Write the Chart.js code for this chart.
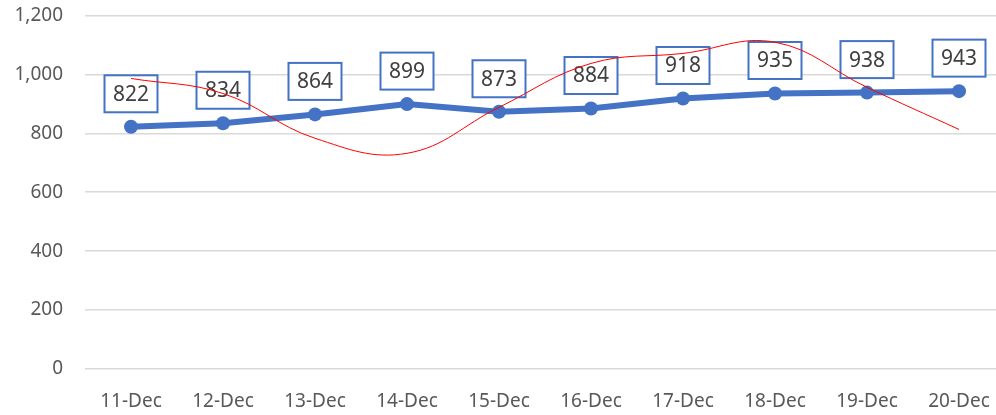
<!DOCTYPE html>
<html>
<head>
<meta charset="utf-8">
<script src="https://cdn.jsdelivr.net/npm/chart.js@4"></script>
<style>
  html, body { margin: 0; padding: 0; background: #fff; overflow: hidden; }
  canvas { display: block; margin-top: -18px; }
</style>
</head>
<body>
<canvas id="chart" width="1012" height="433"></canvas>
<script>
const days = ['11-Dec', '12-Dec', '13-Dec', '14-Dec', '15-Dec', '16-Dec', '17-Dec', '18-Dec', '19-Dec', '20-Dec'];
const totals = [822, 834, 864, 899, 873, 884, 918, 935, 938, 943];
const redCurve = [986, 935, 783, 732, 888, 1037, 1071, 1109, 956, 813];
const yTicks = [0, 200, 400, 600, 800, 1000, 1200];

const blue = '#4472C4';

// boxed value labels drawn right after the blue series, so the red curve sits on top
const boxLabels = {
    id: 'boxLabels',
    afterDatasetDraw(chart, args) {
        if (args.index !== 0) return;
        const ctx = chart.ctx;
        ctx.save();
        ctx.font = '21px "Noto Sans"';
        ctx.textAlign = 'center';
        ctx.textBaseline = 'middle';
        args.meta.data.forEach((pt, i) => {
            const w = 53, h = 37;
            const cx = pt.x, cy = pt.y - 33;
            ctx.fillStyle = '#fff';
            ctx.fillRect(cx - w / 2, cy - h / 2, w, h);
            ctx.strokeStyle = blue;
            ctx.lineWidth = 2;
            ctx.strokeRect(cx - w / 2, cy - h / 2, w, h);
            ctx.fillStyle = '#404040';
            ctx.fillText(totals[i], cx, cy + 1);
        });
        ctx.restore();
    }
};

new Chart(document.getElementById('chart'), {
    type: 'line',
    data: {
        labels: days,
        datasets: [{
            data: totals,
            borderColor: blue,
            backgroundColor: blue,
            borderWidth: 6,
            pointRadius: 7,
            pointBackgroundColor: blue,
            pointBorderWidth: 0,
            tension: 0,
            order: 1
        }, {
            data: redCurve,
            borderColor: '#FF0000',
            borderWidth: 1,
            pointRadius: 0,
            tension: 0.4,
            order: 0
        }]
    },
    options: {
        responsive: false,
        animation: false,
        layout: { padding: 0 },
        plugins: {
            legend: { display: false },
            tooltip: { enabled: false }
        },
        scales: {
            x: {
                offset: true,
                grid: { display: false },
                border: { display: false },
                ticks: { color: '#595959', font: { family: 'Noto Sans', size: 19 }, padding: 13, maxRotation: 0 },
                afterFit: (axis) => { axis.height = 46; }
            },
            y: {
                min: 0,
                max: 1200,
                afterBuildTicks: (axis) => { axis.ticks = yTicks.map(v => ({ value: v })); },
                grid: { color: '#d9d9d9', lineWidth: 1.5, drawTicks: false },
                border: { display: false },
                ticks: {
                    color: '#595959',
                    font: { family: 'Noto Sans', size: 19 },
                    padding: 22,
                    callback: (v) => v.toLocaleString('en-US')
                },
                afterFit: (axis) => { axis.width = 85; }
            }
        }
    },
    plugins: [boxLabels]
});
</script>
</body>
</html>
